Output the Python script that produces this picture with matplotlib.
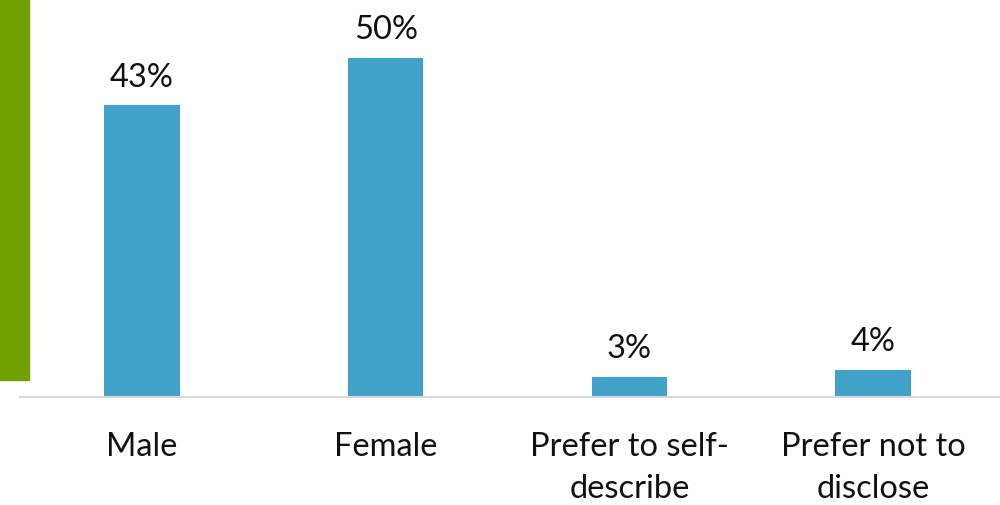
import matplotlib.pyplot as plt
from matplotlib.patches import Rectangle

categories = ['Male', 'Female', 'Prefer to self-\ndescribe', 'Prefer not to\ndisclose']
shares = [43, 50, 3, 4]

bar_color = '#41A2C9'
accent_green = '#70A100'

plt.rcParams['font.family'] = ['Lato', 'DejaVu Sans']

fig = plt.figure(figsize=(10, 5.05), dpi=100)
ax = fig.add_axes([0.02, 0.2139, 0.98, 0.7386])

# green accent strip on the left edge
fig.patches.append(Rectangle((0, 0.2475), 0.029, 0.7525, transform=fig.transFigure,
                             color=accent_green, zorder=0))

x = range(len(categories))
bars = ax.bar(x, shares, width=0.31, color=bar_color, zorder=2)
for rect, v in zip(bars, shares):
    ax.annotate(f'{v}%', (rect.get_x() + rect.get_width() / 2, rect.get_height()),
                xytext=(0, 9), textcoords='offset points', ha='center', va='bottom',
                fontsize=23.5, color='#111111', annotation_clip=False)

ax.set_xlim(-0.5, 3.52)
ax.set_ylim(0, 55)
ax.set_xticks(list(x))
ax.set_xticklabels(categories, fontsize=23.5, color='#111111', linespacing=1.5)
ax.tick_params(axis='x', length=0, pad=25)
ax.set_yticks([])
for side in ['top', 'right', 'left']:
    ax.spines[side].set_visible(False)
ax.spines['bottom'].set_color('#D9D9D9')
ax.spines['bottom'].set_linewidth(1.5)
ax.patch.set_alpha(0)

fig.savefig('out.png', dpi=100)
